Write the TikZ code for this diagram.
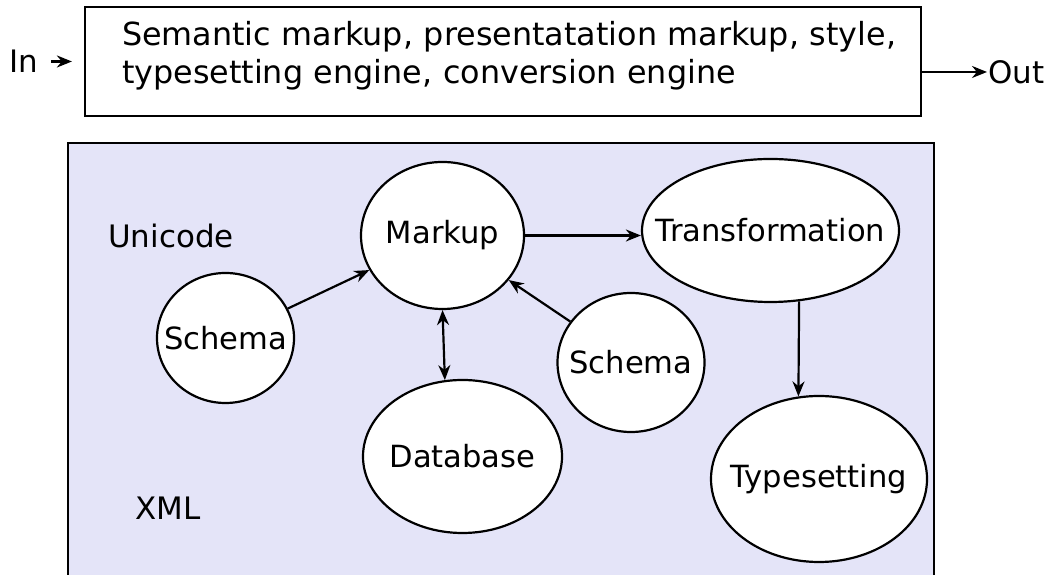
\documentclass[tikz,border=0pt]{standalone}
\usepackage{fontspec}
\setmainfont{DejaVu Sans}
\usetikzlibrary{shapes.geometric,arrows.meta}
\definecolor{panelblue}{RGB}{228,228,248}
\newcommand\blobtext[1]{\makebox[0pt]{#1}}
\begin{document}
\begin{tikzpicture}[line width=1.25pt,>={Stealth[length=.3cm,width=.24cm]},
  blob/.style={draw,ellipse,fill=white,inner sep=0pt,font=\fontsize{17.4}{20}\selectfont},
  lbl/.style={inner sep=0pt,font=\fontsize{17.6}{21}\selectfont}]
\useasboundingbox (0,0) rectangle (20.94,11.5);
\fill[panelblue] (1.36,-.2) rectangle (18.68,8.64);
\draw (1.36,-.2) -- (1.36,8.64) -- (18.68,8.64) -- (18.68,-.2);
%%%%
\node[draw,minimum height=2.18cm,text width=15.24cm,inner xsep=.74cm,align=left,text depth=1.14cm,
  font=\fontsize{18.1}{22.1}\selectfont] (engine) at (10.06,10.27)
  {\mbox{Semantic markup, presentatation markup, style,}\\typesetting engine, conversion engine};
\node[lbl] (in) at (0.48,10.27) {In};
\node[lbl,anchor=west] (out) at (19.74,10.06) {Out};
\draw[->,shorten <=.24cm,shorten >=.24cm] (in) -- (engine);
\draw[->] (engine.east |- out.west) -- (out.west);
%%%%
\node[lbl] (unicode) at (3.42,6.78) {Unicode};
\node[lbl] (xml) at (3.36,1.34) {XML};
\node[blob,minimum width=3.26cm,minimum height=2.94cm] (markup) at (8.85,6.79) {\blobtext{Markup}};
\node[blob,minimum width=2.74cm,minimum height=2.6cm] (schemal) at (4.51,4.74) {\blobtext{Schema}};
\node[blob,minimum width=2.94cm,minimum height=2.78cm] (schemar) at (12.62,4.25) {\blobtext{Schema}};
\node[blob,minimum width=5.14cm,minimum height=2.86cm] (transform) at (15.41,6.89) {\blobtext{Transformation}};
\node[blob,minimum width=4.32cm,minimum height=3.32cm] (typeset) at (16.38,1.92) {\blobtext{Typesetting}};
\node[blob,minimum width=3.98cm,minimum height=3.06cm] (database) at (9.25,2.37) {\blobtext{Database}};
%%%%
\draw[->] (schemal) -- (markup);
\draw[->] (schemar) -- (markup);
\draw[->] (markup.east) -- (transform.west |- markup.east);
\draw[->] (transform.-68) -- (typeset.104);
\draw[<->] (markup.south) -- (database.103);
\end{tikzpicture}
\end{document}
